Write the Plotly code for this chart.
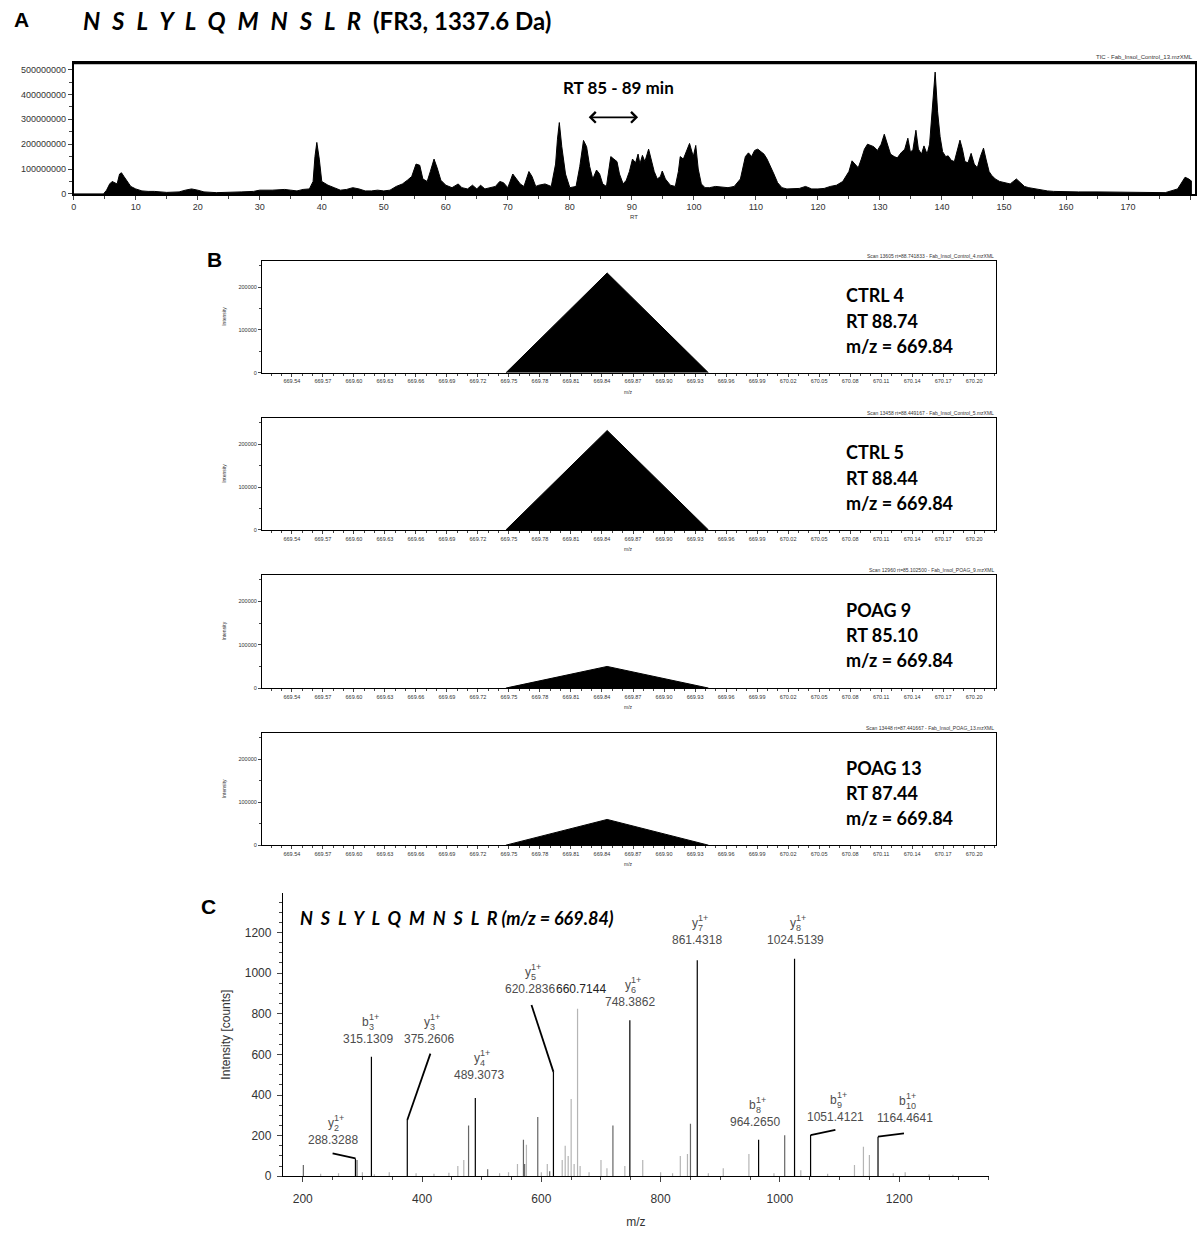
import plotly.graph_objects as go

W, H = 1197, 1233

# ---------------- Panel A data (TIC) ----------------
tic_rt = [0, 4.8, 5.3, 5.8, 6.2, 6.6, 7.0, 7.4, 7.7, 8.1, 8.6, 9.2, 10, 11, 12, 13, 15, 17, 18, 19, 20, 21, 23, 25, 27, 29,
          30, 32, 34, 35, 36, 37, 38, 38.6, 38.9, 39.2, 39.6, 40, 41, 42, 43, 44, 45, 46, 47, 48, 49, 50, 51, 52, 53,
          53.8, 54.5, 55.2, 55.8, 56.3, 57, 57.5, 58.1, 58.6, 59.2, 60, 61, 62, 62.6, 63.5, 64.3, 65, 65.6, 66.3, 67, 68,
          68.7, 69.3, 70, 70.8, 71.4, 72, 72.6, 73.4, 73.9, 74.5, 75, 76, 77, 77.7, 78.0, 78.3, 78.7, 79.3, 80, 81, 81.6,
          82.2, 82.7, 83.2, 83.7, 84.3, 84.8, 85.3, 85.9, 86.3, 86.6, 87.1, 87.6, 88, 88.6, 89.1, 89.6, 90.1, 90.6, 91.0,
          91.3, 91.7, 92.1, 92.7, 93.1, 93.6, 94.1, 94.6, 94.9, 95.4, 96.2, 97, 97.5, 97.8, 98.3, 98.8, 99.3, 99.9, 100.3,
          100.7, 101.2, 101.8, 102.5, 103.5, 104.5, 105.5, 106.5, 107.5, 108.3, 108.8, 109.3, 109.8, 110.3, 110.8, 111.3,
          111.8, 112.3, 112.9, 113.5, 114.2, 115, 116, 117, 118, 119, 120, 121, 122, 123, 124, 125, 125.5, 126, 126.5,
          127, 127.5, 128, 128.4, 129, 129.6, 130.2, 130.7, 131.2, 131.7, 132.3, 132.8, 133.4, 134, 134.5, 134.9, 135.3,
          135.8, 136.2, 136.7, 137.1, 137.6, 138, 138.5, 138.9, 139.3, 139.7, 140.1, 140.6, 141, 141.5, 142, 142.5, 142.9,
          143.3, 143.7, 144.2, 144.7, 145.2, 145.7, 146.2, 146.7, 147.1, 147.6, 148, 148.6, 149.3, 150, 151, 152, 152.7,
          153.3, 154, 155, 156, 157, 158, 160, 162, 165, 168, 170, 172, 174, 176, 178, 178.6, 179.2, 179.8, 180.3, 180.8]
tic_int_m = [0, 0, 15, 40, 50, 45, 40, 80, 85, 70, 50, 30, 20, 12, 10, 10, 6, 8, 15, 20, 15, 8, 5, 5, 8, 10,
             15, 15, 18, 15, 12, 18, 20, 50, 150, 207, 140, 50, 35, 25, 15, 18, 25, 20, 12, 12, 15, 12, 15, 30, 40,
             55, 70, 120, 115, 60, 50, 90, 140, 105, 55, 35, 25, 40, 25, 20, 35, 20, 35, 20, 25, 30,
             50, 45, 25, 80, 60, 40, 30, 90, 70, 30, 35, 40, 30, 120, 220, 287, 190, 80, 25, 30, 110,
             215, 190, 110, 60, 96, 80, 40, 30, 90, 150, 140, 130, 80, 40, 55, 90, 140, 125, 160,
             120, 155, 130, 180, 140, 90, 60, 70, 92, 60, 35, 30, 90, 150, 140, 170, 203, 150,
             195, 100, 40, 25, 25, 30, 28, 25, 30, 60, 150, 165, 150, 175, 180, 170,
             160, 140, 115, 80, 45, 25, 20, 20, 22, 30, 20, 20, 22, 30, 35, 50, 90, 133, 120,
             105, 140, 180, 200, 195, 190, 175, 200, 240, 195, 160, 150, 145, 165, 180, 224, 170,
             175, 256, 180, 160, 193, 160, 200, 350, 490, 330, 230, 170, 150, 153, 135, 130, 180,
             216, 180, 130, 125, 163, 120, 105, 150, 184, 140, 90, 75, 60, 50, 45, 40, 60,
             45, 30, 25, 20, 15, 12, 10, 8, 8, 8, 8, 8, 5, 5, 5, 20, 45, 67, 60, 50]
tic_yticks = [0, 100000000, 200000000, 300000000, 400000000, 500000000]

# ---------------- Panel B data (XIC spectra) ----------------
b_names = ["CTRL 4", "CTRL 5", "POAG 9", "POAG 13"]
b_rt = ["RT 88.74", "RT 88.44", "RT 85.10", "RT 87.44"]
b_mz_label = "m/z = 669.84"
b_scan = ["Scan 13605 rt=88.741833 - Fab_Insol_Control_4.mzXML",
          "Scan 13458 rt=88.449167 - Fab_Insol_Control_5.mzXML",
          "Scan 12960 rt=85.102500 - Fab_Insol_POAG_9.mzXML",
          "Scan 13448 rt=87.441667 - Fab_Insol_POAG_13.mzXML"]
b_peak_mz = [669.747, 669.845, 669.943]
b_peak_int = [233000, 232000, 50000, 60000]

# ---------------- Panel C data (MS/MS spectrum) ----------------
c_black_mz = [288.33, 315.13, 375.26, 489.31, 620.28, 748.39, 861.43, 964.27, 1024.51, 1051.41, 1164.46]
c_black_int = [88, 588, 277, 385, 514, 768, 1063, 180, 1071, 203, 195]
c_dark_mz = [201, 291, 478, 510, 570, 572, 594, 614, 720, 850, 1008]
c_dark_int = [55, 80, 250, 35, 180, 60, 292, 25, 250, 258, 202]
c_light_mz = [230, 260, 300, 320, 345, 390, 420, 445, 460, 470, 530, 545, 560, 575, 600, 610, 635, 640, 645, 650,
              655, 660.71, 665, 680, 700, 710, 740, 770, 800, 820, 833, 845, 880, 905, 948, 990, 1035, 1080, 1125,
              1140, 1150, 1190, 1210, 1250, 1290]
c_light_int = [12, 15, 20, 10, 20, 15, 12, 18, 50, 80, 15, 20, 60, 155, 20, 60, 80, 150, 100, 380,
               60, 825, 50, 20, 80, 40, 50, 80, 20, 15, 100, 110, 15, 40, 110, 15, 30, 12, 55,
               145, 105, 15, 20, 10, 8]
c_lab_ion = ["y", "b", "y", "y", "y", "", "y", "y", "y", "b", "b", "b"]
c_lab_idx = ["2", "3", "3", "4", "5", "", "6", "7", "8", "8", "9", "10"]
c_lab_text = ["288.3288", "315.1309", "375.2606", "489.3073", "620.2836", "660.7144", "748.3862", "861.4318",
              "1024.5139", "964.2650", "1051.4121", "1164.4641"]
c_lab_x = [250, 309, 411, 496, 581, 667, 749, 861, 1026, 958.6, 1093.7, 1208.9]
c_lab_y = [178, 678, 678, 498, 924, 924, 858, 1161, 1161, 269, 293, 285]
c_lead_x0 = [250, 375.26, 620.28, 1051.41, 1164.46]
c_lead_y0 = [113, 277, 514, 203, 195]
c_lead_x1 = [288.33, 414, 583.5, 1093, 1208]
c_lead_y1 = [88, 604, 843, 228, 211]


def xd(l, r):
    return [l / W, r / W]


def yd(top, bottom):
    return [1 - bottom / H, 1 - top / H]


def spaced(s, gap):
    return gap.join(list(s))


fig = go.Figure()
annotations = []
shapes = []

# ----- Panel A -----
fig.add_trace(go.Scatter(x=tic_rt, y=[v * 1e6 for v in tic_int_m], mode="lines", fill="tozeroy",
                         line=dict(color="black", width=1), fillcolor="black", xaxis="x", yaxis="y",
                         showlegend=False, hoverinfo="skip"))

small_font = dict(family="Liberation Sans, Arial", size=9, color="#333")
layout = dict(
    width=W, height=H, margin=dict(l=0, r=0, t=0, b=0),
    paper_bgcolor="white", plot_bgcolor="white", showlegend=False,
    xaxis=dict(domain=xd(71, 1197), range=[0, 180.8], anchor="y", tick0=0, dtick=10, ticks="outside",
               ticklen=4, tickfont=small_font, showline=True, linecolor="black", linewidth=1.5, mirror=True,
               showgrid=False, zeroline=False, minor=dict(dtick=5, ticks="outside", ticklen=3)),
    yaxis=dict(domain=yd(63, 195), range=[0, 528000000], anchor="x", tickvals=tic_yticks, tickformat="d",
               ticks="outside", ticklen=4, tickfont=small_font, showline=True, linecolor="black", linewidth=1.5,
               mirror=True, showgrid=False, zeroline=False,
               minor=dict(dtick=50000000, ticks="outside", ticklen=3)),
)
shapes.append(dict(type="line", xref="paper", yref="paper", x0=71 / W, x1=1, y0=1 - 63 / H, y1=1 - 63 / H,
                   line=dict(color="black", width=3)))

annotations += [
    dict(text="<b>A</b>", x=9 / W, y=1 - 20 / H, xref="paper", yref="paper", xanchor="left", yanchor="middle",
         showarrow=False, font=dict(family="Liberation Sans, Arial", size=21, color="black")),
    dict(text="<b><i>" + spaced("NSLYLQMNSLR", "&nbsp;&nbsp;&#8202;") + "</i></b>", x=78 / W, y=1 - 21 / H,
         xref="paper", yref="paper", xanchor="left", yanchor="middle", showarrow=False,
         font=dict(family="Lato", size=24, color="black")),
    dict(text="<b>(FR3, 1337.6 Da)</b>", x=370 / W, y=1 - 21 / H,
         xref="paper", yref="paper", xanchor="left", yanchor="middle", showarrow=False,
         font=dict(family="Lato", size=24, color="black")),
    dict(text="TIC - Fab_Insol_Control_13.mzXML", x=1, y=1 - 57 / H, xref="paper", yref="paper",
         xanchor="right", yanchor="middle", showarrow=False, font=dict(family="Liberation Sans", size=6, color="#333")),
    dict(text="RT", x=634 / W, y=1 - 218 / H, xref="paper", yref="paper", xanchor="center", yanchor="middle",
         showarrow=False, font=dict(family="Liberation Sans", size=6, color="#333")),
    dict(text="<b>RT 85 - 89 min</b>", x=618 / W, y=1 - 88 / H, xref="paper", yref="paper", xanchor="center",
         yanchor="middle", showarrow=False, font=dict(family="Lato", size=17, color="black")),
    dict(text="", x=91.0, y=308000000, ax=82.8, ay=308000000, xref="x", yref="y", axref="x", ayref="y",
         showarrow=True, arrowhead=4, startarrowhead=4, arrowside="end+start", arrowsize=1.3, startarrowsize=1.3,
         arrowwidth=1.6, arrowcolor="black"),
]

# ----- Panel B -----
b_tops = [262, 420, 578, 737]
b_bottoms = [375, 533, 692, 850]
tiny = dict(family="Liberation Sans", size=5.5, color="#333")
for i in range(4):
    n = i + 2
    fig.add_trace(go.Scatter(x=b_peak_mz, y=[0, b_peak_int[i], 0], mode="lines", fill="toself",
                             line=dict(color="black", width=1), fillcolor="black",
                             xaxis=f"x{n}", yaxis=f"y{n}", showlegend=False, hoverinfo="skip"))
    layout[f"xaxis{n}"] = dict(domain=xd(260, 997), range=[669.511, 670.221], anchor=f"y{n}", tick0=669.54,
                               dtick=0.03, tickformat=".2f", ticks="outside", ticklen=3, tickfont=tiny,
                               showline=True, linecolor="black", linewidth=1, mirror=True, showgrid=False,
                               zeroline=False, minor=dict(dtick=0.01, ticks="outside", ticklen=2))
    layout[f"yaxis{n}"] = dict(domain=yd(b_tops[i], b_bottoms[i]), range=[0, 262000], anchor=f"x{n}",
                               tickvals=[0, 100000, 200000], tickformat="d", ticks="outside", ticklen=3,
                               tickfont=tiny, showline=True, linecolor="black", linewidth=1, mirror=True,
                               showgrid=False, zeroline=False, minor=dict(dtick=50000, ticks="outside", ticklen=2))
    annotations.append(dict(text=b_scan[i], x=997 / W, y=1 - (b_tops[i] - 5) / H, xref="paper", yref="paper",
                            xanchor="right", yanchor="middle", showarrow=False,
                            font=dict(family="Liberation Sans", size=5, color="#333")))
    annotations.append(dict(text="Intensity", x=222 / W, y=1 - (b_tops[i] + b_bottoms[i]) / 2 / H, xref="paper",
                            yref="paper", xanchor="center", yanchor="middle", textangle=-90, showarrow=False,
                            font=dict(family="Liberation Sans", size=5, color="#333")))
    annotations.append(dict(text="m/z", x=628 / W, y=1 - (b_bottoms[i] + 19) / H, xref="paper", yref="paper",
                            xanchor="center", yanchor="middle", showarrow=False,
                            font=dict(family="Liberation Sans", size=5, color="#333")))
    for j, t in enumerate([b_names[i], b_rt[i], b_mz_label]):
        annotations.append(dict(text=f"<b>{t}</b>", x=845 / W, y=1 - (b_tops[i] + 35 + 25.5 * j) / H,
                                xref="paper", yref="paper", xanchor="left", yanchor="middle", showarrow=False,
                                font=dict(family="Lato", size=18, color="black")))

annotations.append(dict(text="<b>B</b>", x=203 / W, y=1 - 261 / H, xref="paper", yref="paper", xanchor="left",
                        yanchor="middle", showarrow=False,
                        font=dict(family="Liberation Sans, Arial", size=21, color="black")))

# ----- Panel C -----
def stems(mzs, ints):
    xs, ys = [], []
    for m, v in zip(mzs, ints):
        xs += [m, m, None]
        ys += [0, v, None]
    return xs, ys


for mzs, ints, col in [(c_light_mz, c_light_int, "#b5b5b5"), (c_dark_mz, c_dark_int, "#666666"),
                       (c_black_mz, c_black_int, "black")]:
    xs, ys = stems(mzs, ints)
    fig.add_trace(go.Scatter(x=xs, y=ys, mode="lines", line=dict(color=col, width=1.2), xaxis="x6", yaxis="y6",
                             showlegend=False, hoverinfo="skip"))

for x0, y0, x1, y1 in zip(c_lead_x0, c_lead_y0, c_lead_x1, c_lead_y1):
    fig.add_trace(go.Scatter(x=[x0, x1], y=[y0, y1], mode="lines", line=dict(color="black", width=1.8),
                             xaxis="x6", yaxis="y6", showlegend=False, hoverinfo="skip"))

cfont = dict(family="Liberation Sans, Arial", size=12, color="#333")
layout["xaxis6"] = dict(domain=xd(281, 990), range=[166.6, 1350.3], anchor="y6", tick0=200, dtick=200,
                        ticks="outside", ticklen=5, tickfont=cfont, ticklabelstandoff=6,
                        showline=True, linecolor="black", linewidth=1,
                        showgrid=False, zeroline=False, minor=dict(dtick=50, ticks="outside", ticklen=3),
                        title=dict(text="m/z", font=cfont, standoff=12))
layout["yaxis6"] = dict(domain=yd(898, 1183), range=[0, 1395], anchor="x6",
                        tickvals=[0, 200, 400, 600, 800, 1000, 1200],
                        ticks="outside", ticklen=5, tickfont=cfont, ticklabelstandoff=3,
                        showline=True, linecolor="black", linewidth=1,
                        showgrid=False, zeroline=False, minor=dict(dtick=50, ticks="outside", ticklen=3),
                        title=dict(text="Intensity [counts]", font=cfont, standoff=11))

lab_color = "#4d4d4d"
for ion, idx, txt, x, y in zip(c_lab_ion, c_lab_idx, c_lab_text, c_lab_x, c_lab_y):
    annotations.append(dict(text=txt, x=x, y=y, xref="x6", yref="y6", xanchor="center", yanchor="middle",
                            showarrow=False, font=dict(family="Liberation Sans, Arial", size=12,
                                                       color="#222" if ion == "" else lab_color)))
    if ion:
        annotations.append(dict(text=ion, x=x, y=y, xref="x6", yref="y6", xanchor="right", yanchor="middle",
                                xshift=3, yshift=17, showarrow=False,
                                font=dict(family="Liberation Sans, Arial", size=12, color=lab_color)))
        annotations.append(dict(text="1+", x=x, y=y, xref="x6", yref="y6", xanchor="left", yanchor="middle",
                                xshift=-1, yshift=22, showarrow=False,
                                font=dict(family="Liberation Sans, Arial", size=9, color=lab_color)))
        annotations.append(dict(text=idx, x=x, y=y, xref="x6", yref="y6", xanchor="left", yanchor="middle",
                                xshift=-1, yshift=12, showarrow=False,
                                font=dict(family="Liberation Sans, Arial", size=9, color=lab_color)))

annotations += [
    dict(text="<b>C</b>", x=197 / W, y=1 - 912 / H, xref="paper", yref="paper", xanchor="left", yanchor="middle",
         showarrow=False, font=dict(family="Liberation Sans, Arial", size=21, color="black")),
    dict(text="<b><i>" + spaced("NSLYLQMNSLR", "&nbsp;&nbsp;") + " (m/z = 669.84)</i></b>", x=296 / W,
         y=1 - 923 / H, xref="paper", yref="paper", xanchor="left", yanchor="middle", showarrow=False,
         font=dict(family="Lato", size=18, color="black")),
]

layout["annotations"] = annotations
layout["shapes"] = shapes
fig.update_layout(**layout)
page_fix = ("document.documentElement.style.margin='0px';document.documentElement.style.padding='0px';"
            "document.documentElement.style.overflow='hidden';document.documentElement.style.height='1233px';"
            "document.body.style.margin='0px';document.body.style.padding='0px';"
            "document.body.style.overflow='hidden';document.body.style.height='1233px';")
fig.write_html("out.html", config={"displayModeBar": False}, post_script=page_fix)
